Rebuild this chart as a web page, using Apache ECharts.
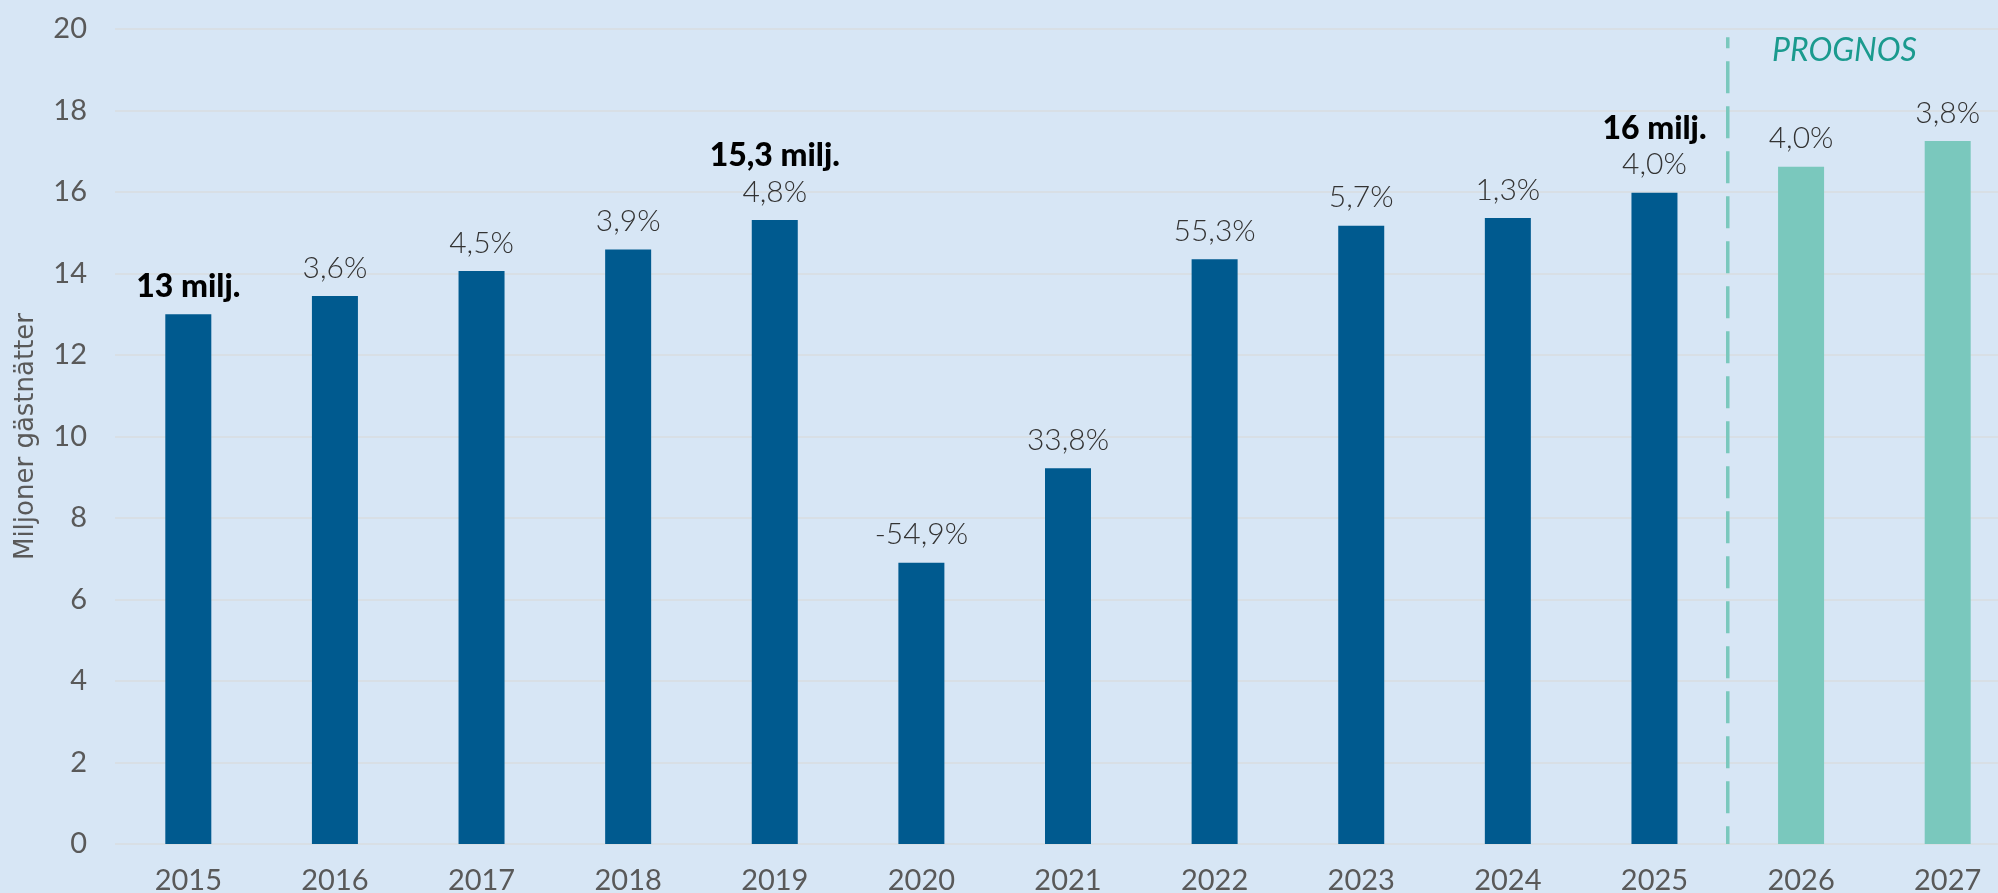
<!DOCTYPE html>
<html>
<head>
<meta charset="utf-8">
<script src="https://cdn.jsdelivr.net/npm/echarts@6/dist/echarts.min.js"></script>
<style>
  html, body { margin: 0; padding: 0; background: #d7e6f5; }
  #mainPlot { width: 1998px; height: 893px; }
</style>
</head>
<body>
<div id="mainPlot"></div>
<script>
// guest nights per year, millions
const years = ["2015", "2016", "2017", "2018", "2019", "2020", "2021", "2022", "2023", "2024", "2025", "2026", "2027"];
const nights = [13.0, 13.45, 14.06, 14.59, 15.31, 6.9, 9.22, 14.35, 15.17, 15.36, 15.98, 16.62, 17.25];
const changes = ["", "3,6%", "4,5%", "3,9%", "4,8%", "-54,9%", "33,8%", "55,3%", "5,7%", "1,3%", "4,0%", "4,0%", "3,8%"];
const highlights = ["13 milj.", "", "", "", "15,3 milj.", "", "", "", "", "", "16 milj.", "", ""];
const forecastFrom = "2026";

const FONT = "Lato, 'Noto Sans', sans-serif";
const forecastIdx = years.indexOf(forecastFrom);
const dividerX = forecastIdx - 0.5;

const chart = echarts.init(document.getElementById("mainPlot"));

const barData = nights.map((v, i) => ({
  value: v,
  itemStyle: { color: i >= forecastIdx ? "#7ac8bd" : "#005a8f" },
}));

const option = {
  backgroundColor: "#d7e6f5",
  animation: false,
  // plot runs past the right edge of the canvas, like the original
  grid: { left: 115, right: -23, top: 29, bottom: 49, containLabel: false, outerBoundsMode: "none" },
  xAxis: [
    {
      type: "category",
      data: years,
      axisLine: { show: false },
      axisTick: { show: false },
      axisLabel: { fontFamily: FONT, fontSize: 29, color: "#595959", margin: 22 },
    },
    {
      type: "value",
      min: -0.5,
      max: years.length - 0.5,
      show: false,
    },
  ],
  yAxis: {
    type: "value",
    min: 0,
    max: 20,
    interval: 2,
    name: "Miljoner gästnätter",
    nameLocation: "middle",
    nameGap: 76,
    nameTextStyle: { fontFamily: "'DejaVu Sans', sans-serif", fontSize: 26, color: "#595959" },
    axisLine: { show: false },
    axisTick: { show: false },
    axisLabel: { fontFamily: FONT, fontSize: 29, color: "#595959", margin: 28 },
    splitLine: { lineStyle: { color: "#d8dcdf", width: 1.5 } },
  },
  series: [
    {
      type: "bar",
      data: barData,
      barWidth: 46,
      label: {
        show: true,
        position: "top",
        distance: 10,
        formatter: (p) => {
          const parts = [];
          if (highlights[p.dataIndex]) parts.push("{h|" + highlights[p.dataIndex] + "}");
          if (changes[p.dataIndex]) parts.push("{p|" + changes[p.dataIndex] + "}");
          return parts.join("\n");
        },
        rich: {
          h: { fontFamily: FONT, fontSize: 32, fontWeight: 900, color: "#000", lineHeight: 36 },
          p: { fontFamily: FONT, fontSize: 30, fontWeight: 300, color: "#333", lineHeight: 36 },
        },
      },
    },
    {
      type: "line",
      xAxisIndex: 1,
      data: [[dividerX, 19.8], [dividerX, 0]],
      symbol: "none",
      silent: true,
      lineStyle: { color: "#7ac8bd", width: 3.5, type: [32, 13], dashOffset: 21 },
    },
  ],
  graphic: [
    {
      type: "text",
      left: 1772,
      top: 35,
      style: {
        text: "PROGNOS",
        fontFamily: FONT,
        fontSize: 32,
        fontStyle: "italic",
        fill: "#1a9a8e",
      },
    },
  ],
};

chart.setOption(option);
window.addEventListener("resize", () => chart.resize());
</script>
</body>
</html>
